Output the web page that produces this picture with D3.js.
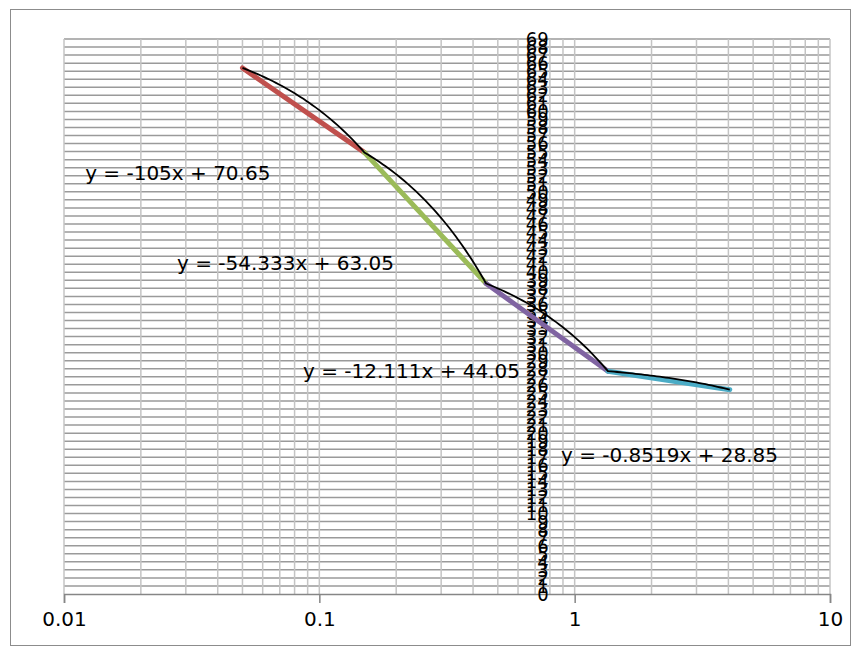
<!DOCTYPE html>
<html>
<head>
<meta charset="utf-8">
<script src="https://cdn.jsdelivr.net/npm/d3@7"></script>
<style>
  body { margin: 0; background: #fff; }
  text { font-family: "DejaVu Sans", sans-serif; fill: #000; }
</style>
</head>
<body>
<script>
// data points (joints of the colored segments)
const xValues = [0.05, 0.15, 0.45, 1.35, 4.05]
const yValues = [65.4, 54.9, 38.6, 27.7, 25.4]
// colored segments between consecutive points
const segColors = ["#C0504D", "#9BBB59", "#8064A2", "#4BACC6"]
// linear trendlines of each segment (black, drawn on the log axis)
const slopes = [-105, -54.333, -12.111, -0.8519]
const intercepts = [70.65, 63.05, 44.05, 28.85]
const equations = ["y = -105x + 70.65", "y = -54.333x + 63.05", "y = -12.111x + 44.05", "y = -0.8519x + 28.85"]
// label anchor (data coords) for each equation
const eqX = [0.0121, 0.0277, 0.0863, 0.884]
const eqY = [51.5, 40.25, 26.9, 16.4]
const xTicks = [0.01, 0.1, 1, 10]
const yTicks = d3.range(0, 70)

const w = 860
const h = 654
const pLeft = 64, pRight = 830, pTop = 39, pBottom = 594

const svg = d3.select("body").append("svg")
    .attr("width", w)
    .attr("height", h)

// outer chart border
svg.append("rect")
    .attr("x", 10.5).attr("y", 9.5)
    .attr("width", 840).attr("height", 636)
    .attr("fill", "none")
    .attr("stroke", "#8c8c8c")

const x = d3.scaleLog().domain([0.01, 10]).range([pLeft, pRight])
const y = d3.scaleLinear().domain([0, 69]).range([pBottom, pTop])

// horizontal gridlines
svg.append("g").selectAll("line")
    .data(yTicks.slice(1))
    .enter().append("line")
    .attr("x1", pLeft).attr("x2", pRight)
    .attr("y1", d => y(d)).attr("y2", d => y(d))
    .attr("stroke", "#9a9a9a")
    .attr("stroke-width", 1.5)

// vertical log gridlines
let minor = []
;[0.01, 0.1, 1].forEach(dec => {
    for (let k = 1; k <= 9; k++) minor.push(dec * k)
})
minor.push(10)
svg.append("g").selectAll("line")
    .data(minor)
    .enter().append("line")
    .attr("x1", d => x(d)).attr("x2", d => x(d))
    .attr("y1", pTop).attr("y2", pBottom)
    .attr("stroke", "#c4c4c4")
    .attr("stroke-width", 1.5)

// x axis
const xAxis = svg.append("g")
    .attr("transform", "translate(0," + pBottom + ")")
    .call(d3.axisBottom(x).tickValues(xTicks).tickSize(9).tickPadding(9)
        .tickFormat(d => String(d)))
xAxis.select(".domain").attr("stroke", "#868686").attr("stroke-width", 1.5)
xAxis.selectAll(".tick line").attr("stroke", "#868686").attr("stroke-width", 1.5)
xAxis.selectAll(".tick text").style("font-size", "20px").attr("fill", "#000")

// y axis, crossing near x = 0.82
const yAxis = svg.append("g")
    .attr("transform", "translate(" + x(0.82) + ",0)")
    .call(d3.axisLeft(y).tickValues(yTicks).tickSize(0).tickPadding(4))
yAxis.select(".domain").remove()
yAxis.selectAll(".tick text")
    .style("font-size", "20px")
    .style("font-family", "'DejaVu Sans Condensed', 'DejaVu Sans', sans-serif")
    .style("font-stretch", "condensed")
    .attr("fill", "#000")

// colored segments
const pts = xValues.map((d, i) => [d, yValues[i]])
svg.append("g").selectAll("line")
    .data(segColors)
    .enter().append("line")
    .attr("x1", (d, i) => x(pts[i][0])).attr("y1", (d, i) => y(pts[i][1]))
    .attr("x2", (d, i) => x(pts[i + 1][0])).attr("y2", (d, i) => y(pts[i + 1][1]))
    .attr("stroke", d => d)
    .attr("stroke-width", 5)
    .attr("stroke-linecap", "round")

// black trendlines: y = a*x + b plotted over each segment's x range
const line = d3.line()
    .x(d => x(d[0]))
    .y(d => y(d[1]))
let trend = []
slopes.forEach((a, i) => {
    const lo = Math.log10(xValues[i]), hi = Math.log10(xValues[i + 1])
    for (let s = 0; s <= 40; s++) {
        const xv = Math.pow(10, lo + (hi - lo) * s / 40)
        trend.push([xv, a * xv + intercepts[i]])
    }
})
svg.append("path")
    .attr("d", line(trend))
    .attr("fill", "none")
    .attr("stroke", "#000")
    .attr("stroke-width", 1.8)
    .attr("stroke-linejoin", "round")

// trendline equations
svg.append("g").selectAll("text")
    .data(equations)
    .enter().append("text")
    .attr("x", (d, i) => x(eqX[i]))
    .attr("y", (d, i) => y(eqY[i]))
    .style("font-size", "20px")
    .text(d => d)
</script>
</body>
</html>
